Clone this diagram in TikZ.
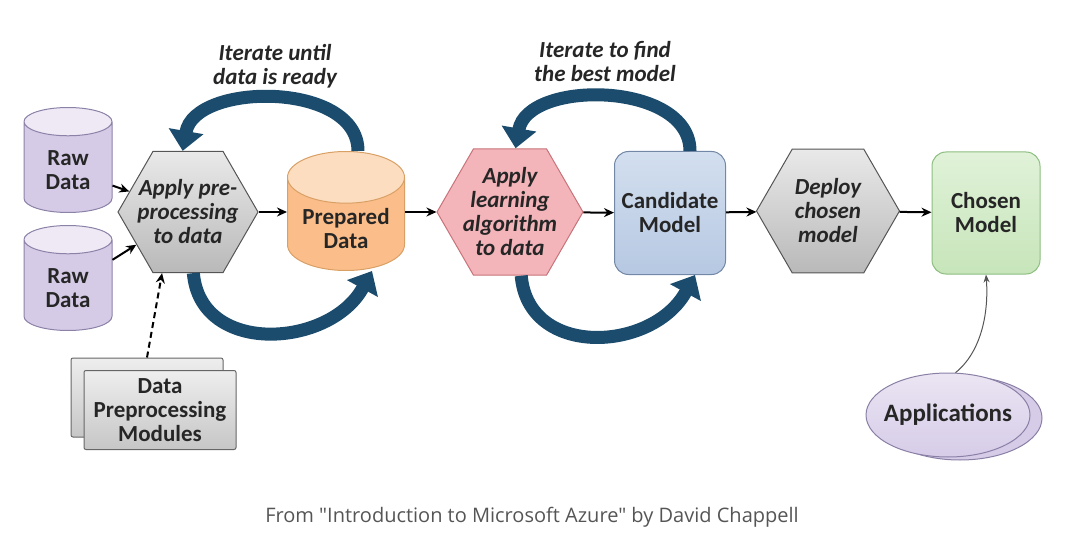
\documentclass[tikz,border=0pt]{standalone}
\usepackage{fontspec}
\setmainfont{Carlito}
\newfontfamily\capfont{Open Sans}
\usepackage{xcolor}
\usepackage{tikz}
\usetikzlibrary{shapes.geometric,arrows.meta}
\definecolor{rawcolor}{HTML}{D5CBE6}
\definecolor{rawtop}{HTML}{EEE9F5}
\definecolor{rawline}{HTML}{8C82A8}
\definecolor{prepcolor}{HTML}{FBBE8A}
\definecolor{preptop}{HTML}{FDDDBF}
\definecolor{prepline}{HTML}{D9A066}
\definecolor{hextop}{HTML}{E9E9E9}
\definecolor{hexbottom}{HTML}{B9B9B9}
\definecolor{hexline}{HTML}{555555}
\definecolor{learncolor}{HTML}{F3B5BA}
\definecolor{learnline}{HTML}{C8737A}
\definecolor{candtop}{HTML}{D3DFEF}
\definecolor{candcolor}{HTML}{B6C8E2}
\definecolor{candline}{HTML}{7388A6}
\definecolor{chosentop}{HTML}{E0F2D8}
\definecolor{chosencolor}{HTML}{C7E5BA}
\definecolor{chosenline}{HTML}{8DBE80}
\definecolor{modtop}{HTML}{EEEEEE}
\definecolor{modcolor}{HTML}{C6C6C6}
\definecolor{modline}{HTML}{666666}
\definecolor{apptop}{HTML}{EBE5F3}
\definecolor{appcolor}{HTML}{D6CCE8}
\definecolor{appline}{HTML}{8A80A6}
\definecolor{pointline}{HTML}{555555}
\definecolor{loopblue}{HTML}{1B4C6D}
\definecolor{capgray}{HTML}{555555}

\begin{document}
\begin{tikzpicture}[x=1pt,y=1pt,
  txt/.style={font=\fontsize{23pt}{24pt}\selectfont\bfseries, align=center, text=black!85},
  hexa/.style={txt, regular polygon, regular polygon sides=6, inner sep=-20pt, draw=hexline, line width=1pt, font=\fontsize{23pt}{24pt}\selectfont\bfseries\itshape},
  can/.style={txt, cylinder, shape border rotate=90, aspect=0.55, cylinder uses custom fill, line width=1pt, anchor=shape center},
  box/.style={txt, rectangle, rounded corners=14pt, line width=1pt},
  arr/.style={-{Stealth[length=10pt,width=9pt]}, line width=2pt},
  iterarrow/.style={draw=loopblue, line width=13pt, -{Triangle[length=20pt,width=34pt]}}]%
\useasboundingbox (0,0) rectangle (1069,550);%
\node[can, minimum width=88pt, minimum height=105pt, draw=rawline, cylinder body fill=rawcolor, cylinder end fill=rawtop] (raw1) at (68,390) {Raw\\Data};%
\node[can, minimum width=88pt, minimum height=105pt, draw=rawline, cylinder body fill=rawcolor, cylinder end fill=rawtop] (raw2) at (68,272) {Raw\\Data};%
\node[hexa, minimum size=140pt, top color=hextop, bottom color=hexbottom] (pre) at (188,338) {Apply pre-\\processing\\to data};%
\node[can, minimum width=117pt, minimum height=119pt, draw=prepline, cylinder body fill=prepcolor, cylinder end fill=preptop] (prep) at (346,339) {Prepared\\Data};%
\node[hexa, minimum size=146pt, fill=learncolor, draw=learnline] (learn) at (510,338) {Apply\\learning\\algorithm\\to data};%
\node[box, minimum width=111pt, minimum height=123pt, draw=candline, top color=candtop, bottom color=candcolor] (cand) at (670,337) {Candidate\\Model};%
\node[hexa, minimum size=143pt, top color=hextop, bottom color=hexbottom] (deploy) at (828,339) {Deploy\\chosen\\model};%
\node[box, minimum width=108pt, minimum height=122pt, draw=chosenline, top color=chosentop, bottom color=chosencolor] (chosen) at (986,337) {Chosen\\Model};%
\node[box, rounded corners=2pt, minimum width=152pt, minimum height=79pt, draw=modline, top color=modtop, bottom color=modcolor] (modback) at (147,152.5) {};%
\node[box, rounded corners=2pt, minimum width=152pt, minimum height=79pt, draw=modline, top color=modtop, bottom color=modcolor] (mod) at (160,140) {Data\\Preprocessing\\Modules};%
\node[ellipse, minimum width=164pt, minimum height=84pt, inner sep=-10pt, draw=appline, fill=appcolor, line width=1pt] (appback) at (960,132) {};%
\node[ellipse, minimum width=164pt, minimum height=84pt, inner sep=-10pt, draw=appline, top color=apptop, bottom color=appcolor, line width=1pt, font=\fontsize{25pt}{27pt}\selectfont\bfseries, text=black!85] (app) at (948,135) {Applications};%
\node[txt, font=\fontsize{23pt}{24pt}\selectfont\bfseries\itshape] (iter1) at (275,484) {Iterate until\\data is ready};%
\node[txt, font=\fontsize{23pt}{24pt}\selectfont\bfseries\itshape] (iter2) at (605,488) {Iterate to find\\the best model};%
\node[font=\capfont\fontsize{20pt}{22pt}\selectfont, text=capgray] (src) at (532,33) {From "Introduction to Microsoft Azure" by David Chappell};%
\draw[arr] (raw1) -- (pre);%
\draw[arr] (raw2) -- (pre);%
\draw[arr] (pre.east) -- (pre.east -| prep.west);%
\draw[arr] (learn.west -| prep.east) -- (learn.west);%
\draw[arr] (learn) -- (cand);%
\draw[arr] (cand) -- (deploy);%
\draw[arr] (deploy) -- (chosen);%
\draw[arr, dash pattern=on 6pt off 4pt] (modback.north) -- (pre.247);%
\draw[-{Stealth[length=8pt,width=6pt]}, line width=1pt, draw=pointline] (app.80) .. controls +(25,20) and +(3,-40) .. (chosen.south);%
\draw[iterarrow] ([xshift=12pt]prep.north) .. controls +(0,70) and +(12,69) .. (pre.95);%
\draw[iterarrow] (pre.-85) .. controls +(7,-83) and +(-42,-77) .. ([xshift=26pt]prep.south);%
\draw[iterarrow] ([xshift=20pt]cand.north) .. controls +(0,70) and +(12,69) .. (learn.85);%
\draw[iterarrow] (learn.-80) .. controls +(7,-83) and +(-42,-77) .. ([xshift=25pt]cand.south);%
\end{tikzpicture}
\end{document}
